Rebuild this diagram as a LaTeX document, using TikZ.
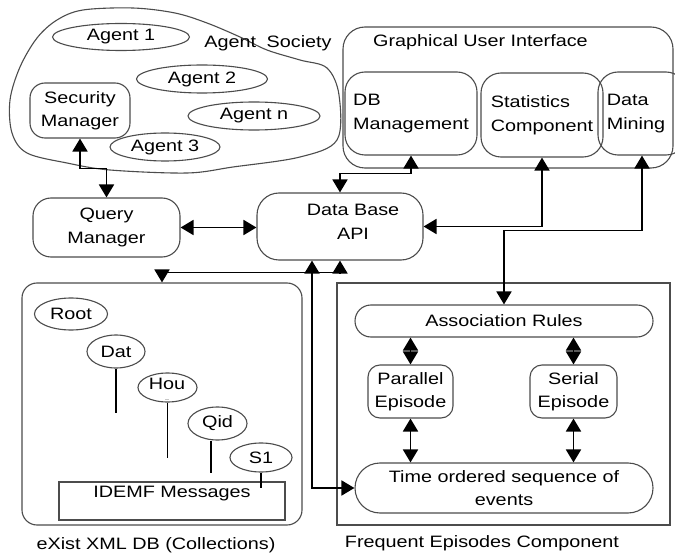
\documentclass[tikz,border=0pt]{standalone}
\usepackage{fontspec}
\setmainfont{Liberation Sans}[FakeStretch=1.2]
\usetikzlibrary{shapes.geometric,arrows.meta,calc}
\begin{document}
\begin{tikzpicture}[x=1pt,y=-1pt,
  font=\fontsize{16.5}{23.5}\selectfont,
  box/.style={draw=black!70, line width=1.1pt, rounded corners=#1, inner sep=0pt, align=center},
  box/.default=15pt,
  sqbox/.style={draw=black!70, line width=1.1pt, inner sep=0pt},
  ell/.style={ellipse, draw=black!70, line width=1.1pt, inner sep=0pt},
  conn/.style={line width=1.8pt, draw=black},
  bi/.style={conn, {Triangle[length=13pt,width=15pt]}-{Triangle[length=13pt,width=15pt]}},
  lbl/.style={inner sep=0pt}
]
\clip (0,0) rectangle (675,556);
\fill[white] (0,0) rectangle (675,556);

% Agent society cloud
\draw[draw=black!70, line width=1.1pt] plot[smooth cycle, tension=0.55] coordinates {
 (83,10) (133,8) (175,13) (207,23) (240,37) (267,50) (300,60) (327,68) (339,95)
 (337,140) (300,157) (233,167) (187,173) (110,170) (67,163) (27,153) (12,133)
 (10,100) (20,67) (37,38) (57,20)};
\node[lbl] (society) at (268,43) {Agent\hspace{5pt} Society};
\node[ell, minimum width=137pt, minimum height=27pt] (a1) at (121,37) {Agent 1};
\node[ell, minimum width=131pt, minimum height=28pt] (a2) at (202,79) {Agent 2};
\node[ell, minimum width=132pt, minimum height=28pt] (an) at (254,116) {Agent n};
\node[ell, minimum width=110pt, minimum height=28pt] (a3) at (165,147) {Agent 3};
\node[box=15pt, minimum width=100pt, minimum height=55pt] (sec) at (80,110.5) {Security\\Manager};

% Query manager and API
\node[box=18pt, minimum width=147pt, minimum height=59pt] (qm) at (106.5,227.5) {Query\\Manager};
\node[box=22pt, minimum width=166pt, minimum height=67pt] (api) at (340,226.5) {};
\node[lbl, align=center] (apitxt) at (353,222) {Data Base\\API};

% GUI
\node[box=22pt, minimum width=330pt, minimum height=141pt] (gui) at (508,97.5) {};
\node[lbl, anchor=west] (guitxt) at (373,42) {Graphical User Interface};
\node[box=20pt, minimum width=132pt, minimum height=83pt, align=left] (dbm) at (411,113.5) {DB\\Management};
\node[box=20pt, minimum width=122pt, minimum height=84pt, align=left] (stat) at (542,115) {Statistics\\Component};
\node[box=20pt, minimum width=88pt, minimum height=83pt, align=left] (dm) at (642,113.5) {Data\hspace{22pt}\null\\Mining\hspace{12pt}\null};

% Frequent episodes
\node[sqbox, minimum width=333pt, minimum height=242pt] (fe) at (503.5,404) {};
\node[box=16pt, minimum width=298pt, minimum height=32pt] (ar) at (504,321) {Association Rules};
\node[box=12pt, minimum width=85pt, minimum height=53pt] (par) at (410.5,391.5) {Parallel\\Episode};
\node[box=12pt, minimum width=87pt, minimum height=53pt] (ser) at (573.5,391.5) {Serial\\Episode};
\node[box=25pt, minimum width=298pt, minimum height=50pt] (time) at (504,488) {Time ordered sequence of\\events};
\node[lbl] (fecap) at (482,543) {Frequent Episodes Component};

% eXist
\node[box=15pt, minimum width=280pt, minimum height=242pt] (exist) at (162,404) {};
\node[lbl] (excap) at (156,545) {eXist XML DB (Collections)};
\node[ell, minimum width=73pt, minimum height=32pt] (root) at (71,314) {Root};
\node[ell, minimum width=58pt, minimum height=33pt] (dat) at (116,351.5) {Dat};
\node[ell, minimum width=59pt, minimum height=29pt] (hou) at (167.5,387.5) {};
\node[lbl] (houtxt) at (167,384) {Hou};
\node[lbl, font=\fontsize{6}{6}\selectfont] (houdots) at (167,400) {..};
\node[ell, minimum width=59pt, minimum height=33pt] (qid) at (217.5,423.5) {Qid};
\node[ell, minimum width=62pt, minimum height=29pt] (s1) at (261,457.5) {S1};
\node[sqbox, minimum width=226pt, minimum height=38pt] (idemf) at (172,501) {};
\node[lbl] (idemftxt) at (172,494) {IDEMF Messages};

\draw[draw=black, line width=1.2pt] (dat.south) -- ++(0,44);
\draw[draw=black, line width=1.2pt] (hou.south) -- ++(0,55);
\draw[draw=black, line width=1.2pt] ([xshift=-6.5pt]qid.south) -- ++(0,32);
\draw[draw=black, line width=1.2pt] (s1.south) -- ++(0,15);

% connectors
\draw[bi] (sec.south) -- ++(0,30) -| (qm.north);
\draw[bi] (qm.east) -- (qm.east -| api.west);
\draw[bi] (dbm.south) -- ++(0,18) -| (api.north);
\draw[bi] (stat.south) |- (api.east);
\draw[bi] (dm.south) -- ++(0,75) -| (ar.north);
\draw[bi] (api.south) -- ++(0,12) -| (exist.north);
\draw[bi] ([xshift=-28pt]api.south) |- (time.west);
\draw[bi] (par.north |- ar.south) -- (par.north);
\draw[bi] (ser.north |- ar.south) -- (ser.north);
\draw[bi] (par.south) -- (par.south |- time.north);
\draw[bi] (ser.south) -- (ser.south |- time.north);
\end{tikzpicture}
\end{document}
